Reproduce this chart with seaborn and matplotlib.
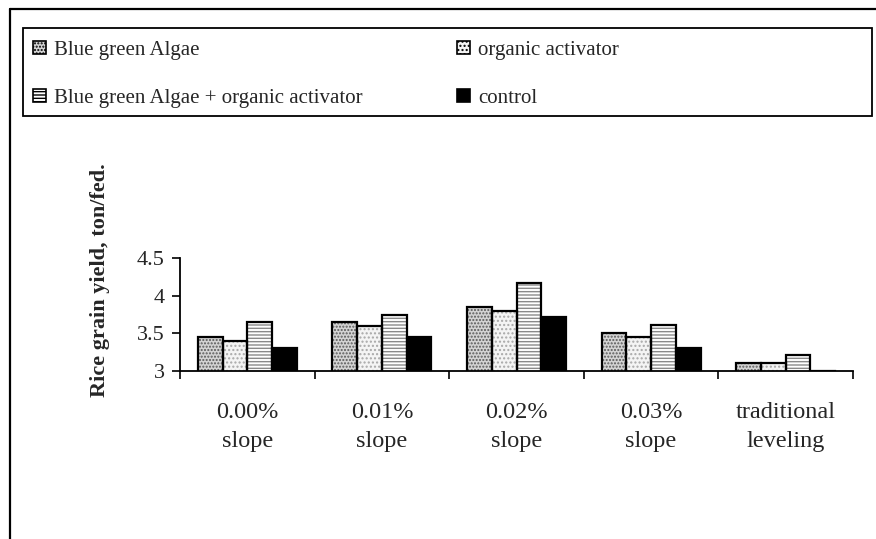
import matplotlib
matplotlib.use("Agg")
import matplotlib.pyplot as plt
import seaborn as sns
import pandas as pd
import numpy as np
from matplotlib.patches import Rectangle, Patch
from matplotlib.lines import Line2D

categories = ["0.00%\nslope", "0.01%\nslope", "0.02%\nslope", "0.03%\nslope", "traditional\nleveling"]
treatments = ["Blue green Algae", "organic activator", "Blue green Algae + organic activator", "control"]
bga = [3.45, 3.65, 3.85, 3.50, 3.11]
oa = [3.40, 3.60, 3.80, 3.45, 3.11]
bga_oa = [3.65, 3.74, 4.17, 3.61, 3.21]
control = [3.30, 3.45, 3.72, 3.30, 3.00]
yticks = [3, 3.5, 4, 4.5]
ytick_labels = ["3", "3.5", "4", "4.5"]

sns.set_style("ticks")
plt.rcParams["font.family"] = ["Liberation Serif", "DejaVu Serif"]
plt.rcParams["hatch.linewidth"] = 1.0

rows = []
for t, vals in zip(treatments, [bga, oa, bga_oa, control]):
    for c, v in zip(categories, vals):
        rows.append({"slope": c, "yield": v, "treatment": t})
df = pd.DataFrame(rows)

fills = {"Blue green Algae": "#d4d4d4", "organic activator": "#f4f4f4",
         "Blue green Algae + organic activator": "#ffffff", "control": "#000000"}
hatches = {"Blue green Algae": ".....", "organic activator": "....",
           "Blue green Algae + organic activator": "-----", "control": ""}
hcolors = {"Blue green Algae": "#5a5a5a", "organic activator": "#a8a8a8",
           "Blue green Algae + organic activator": "#8a8a8a", "control": "#000000"}

fig = plt.figure(figsize=(8.76, 5.39), dpi=100)
ax = fig.add_axes([180/876, 1-371/539, (853-180)/876, 113/539])
sns.barplot(data=df, x="slope", y="yield", hue="treatment", hue_order=treatments,
            order=categories, palette=fills, width=0.735, gap=0, ax=ax, legend=False,
            saturation=1, errorbar=None)

bars = list(ax.patches)
for i, t in enumerate(treatments):
    for j in range(len(categories)):
        p = bars[i*len(categories)+j]
        p.set_hatch(hatches[t])
        p.set_edgecolor(hcolors[t])
        p.set_linewidth(0)
        r = Rectangle((p.get_x(), p.get_y()), p.get_width(), p.get_height(),
                      fill=False, edgecolor="black", linewidth=1.6, zorder=p.get_zorder()+0.1)
        ax.add_patch(r)

ax.set_ylim(3, 4.5)
ax.set_xlim(-0.5, len(categories)-0.5)
ax.set_yticks(yticks)
ax.set_yticklabels(ytick_labels, fontsize=16)
ax.set_xticks(np.arange(-0.5, len(categories)), labels=[""]*(len(categories)+1))
ax.set_xticks(np.arange(len(categories)), labels=categories, minor=True)
ax.tick_params(axis="x", which="major", length=6, width=1.2, direction="out", color="black")
ax.tick_params(axis="x", which="minor", length=0, pad=22, labelsize=17.5)
ax.tick_params(axis="y", length=6, width=1.2, direction="out", pad=5, color="black")
for lbl in ax.get_xticklabels(minor=True):
    lbl.set_linespacing(1.55)
ax.set_xlabel("")
ax.set_ylabel("")
sns.despine(ax=ax)
for s in ["left", "bottom"]:
    ax.spines[s].set_linewidth(1.3)
    ax.spines[s].set_color("black")

fig.text(100/876, 1-280/539, "Rice grain yield, ton/fed.", rotation=90,
         fontsize=16, fontweight="bold", ha="center", va="center")

# legend
handles = {t: Patch(facecolor=fills[t], edgecolor="black", hatch=hatches[t], linewidth=1.2)
           for t in treatments}
common = dict(loc="upper left", frameon=False, fontsize=15, handlelength=0.6,
              handleheight=0.6, handletextpad=0.4, borderaxespad=0, borderpad=0,
              labelspacing=1.4)
col1 = [treatments[0], treatments[2]]
col2 = [treatments[1], treatments[3]]
fig.legend([handles[t] for t in col1], col1, bbox_to_anchor=(33/876, 1-41/539), **common)
fig.legend([handles[t] for t in col2], col2, bbox_to_anchor=(457/876, 1-41/539), **common)
fig.add_artist(Rectangle((23/876, 1-116/539), (872-23)/876, 88/539, transform=fig.transFigure,
                         fill=False, edgecolor="black", linewidth=1.3))

# outer chart border (partially cut)
fig.add_artist(Line2D([10/876, 10/876], [0, 1-9/539], transform=fig.transFigure, color="black", linewidth=1.6))
fig.add_artist(Line2D([10/876, 1], [1-9/539, 1-9/539], transform=fig.transFigure, color="black", linewidth=1.6))

fig.savefig("out.png", dpi=100)
